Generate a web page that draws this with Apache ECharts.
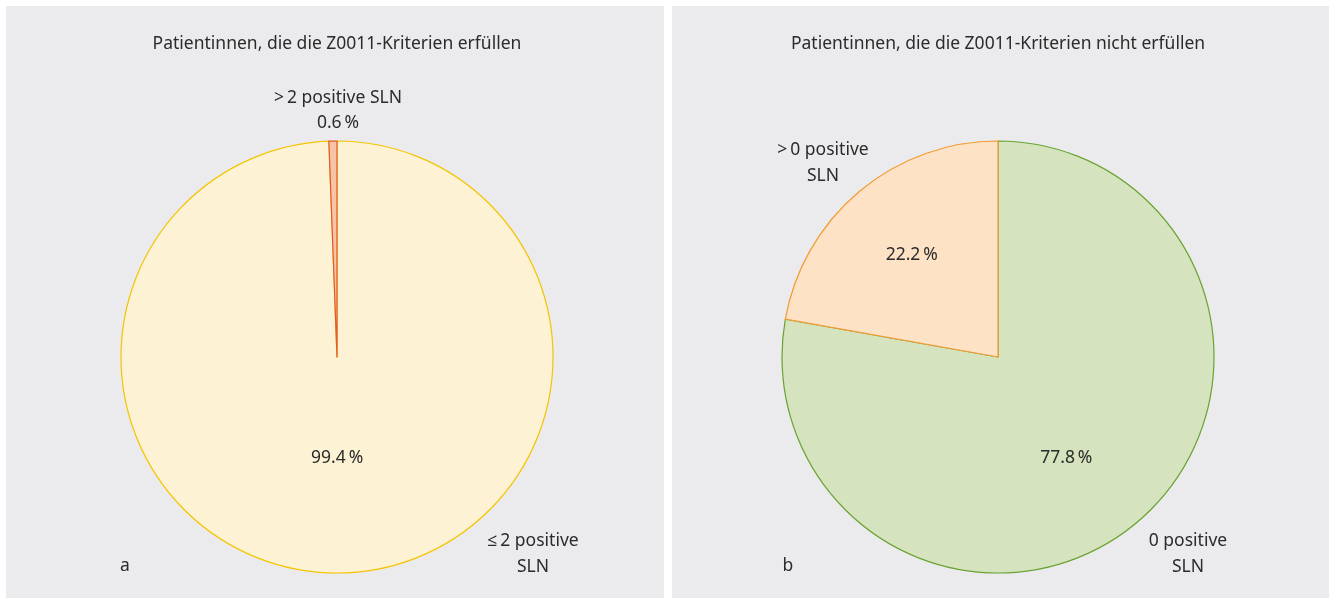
<!DOCTYPE html>
<html>
<head>
<meta charset="utf-8">
<script src="https://cdn.jsdelivr.net/npm/echarts@6/dist/echarts.min.js"></script>
<style>
html,body{margin:0;padding:0;background:#ffffff;}
#chart{width:1335px;height:598px;}
</style>
</head>
<body>
<div id="chart"></div>
<script>
var titles = ['Patientinnen, die die Z0011-Kriterien erfüllen', 'Patientinnen, die die Z0011-Kriterien nicht erfüllen'];
var panelLetters = ['a', 'b'];
var categoriesA = ['\u2264\u20092 positive SLN', '>\u20092 positive SLN'];
var valuesA = [99.4, 0.6];
var categoriesB = ['0 positive SLN', '>\u20090 positive SLN'];
var valuesB = [77.8, 22.2];

var FONT = '"Noto Sans", "Open Sans", sans-serif';
var FS = 17.5;
var TXT = '#2b2b2b';
var chart = echarts.init(document.getElementById('chart'), null, {renderer: 'canvas'});

function fmt(v){ return v.toFixed(1) + '\u2009%'; }

function pieSeries(center, names, values, fills, borders, offsets, showLbl){
  return {
    type: 'pie',
    center: center,
    radius: 216,
    startAngle: 90,
    clockwise: true,
    silent: true,
    animation: false,
    label: {
      show: true, position: 'inside', color: TXT, fontFamily: FONT, fontSize: FS,
      formatter: function(p){ return fmt(p.value); }
    },
    labelLine: {show: false},
    labelLayout: function(p){ return {dx: offsets[p.dataIndex][0], dy: offsets[p.dataIndex][1]}; },
    data: values.map(function(v, i){
      return {
        name: names[i], value: v,
        itemStyle: {color: fills[i], borderColor: borders[i], borderWidth: 1.2},
        label: {show: showLbl[i]}
      };
    })
  };
}

function txt(x, y, s, lh){
  return {type: 'text', x: x, y: y, style: {text: s, font: FS + 'px ' + FONT, lineHeight: lh || 26, fill: TXT, align: 'center', verticalAlign: 'middle'}};
}

var option = {
  backgroundColor: '#ffffff',
  graphic: [
    {type: 'rect', z: -10, shape: {x: 6, y: 6, width: 658, height: 592}, style: {fill: '#ebebee'}},
    {type: 'rect', z: -10, shape: {x: 672, y: 6, width: 657, height: 592}, style: {fill: '#ebebee'}},
    txt(337, 44, titles[0]),
    txt(998, 44, titles[1]),
    txt(338, 111, categoriesA[1] + '\n' + fmt(valuesA[1]), 25),
    txt(533, 554, '\u2264\u20092 positive\nSLN'),
    txt(823, 163, '>\u20090 positive\nSLN'),
    txt(1188, 554, '0 positive\nSLN'),
    txt(125, 566, panelLetters[0]),
    txt(788, 566, panelLetters[1])
  ],
  series: [
    pieSeries([337, 357], categoriesA, valuesA, ['#fdf2d3', '#f6c4a8'], ['#f5c400', '#e05a2b'], [[-2, -10], [0, 0]], [true, false]),
    pieSeries([998, 357], categoriesB, valuesB, ['#d5e4bf', '#fde2c6'], ['#6aa330', '#f29a31'], [[-3, 16], [-15, -17]], [true, true])
  ]
};
chart.setOption(option);
</script>
</body>
</html>
